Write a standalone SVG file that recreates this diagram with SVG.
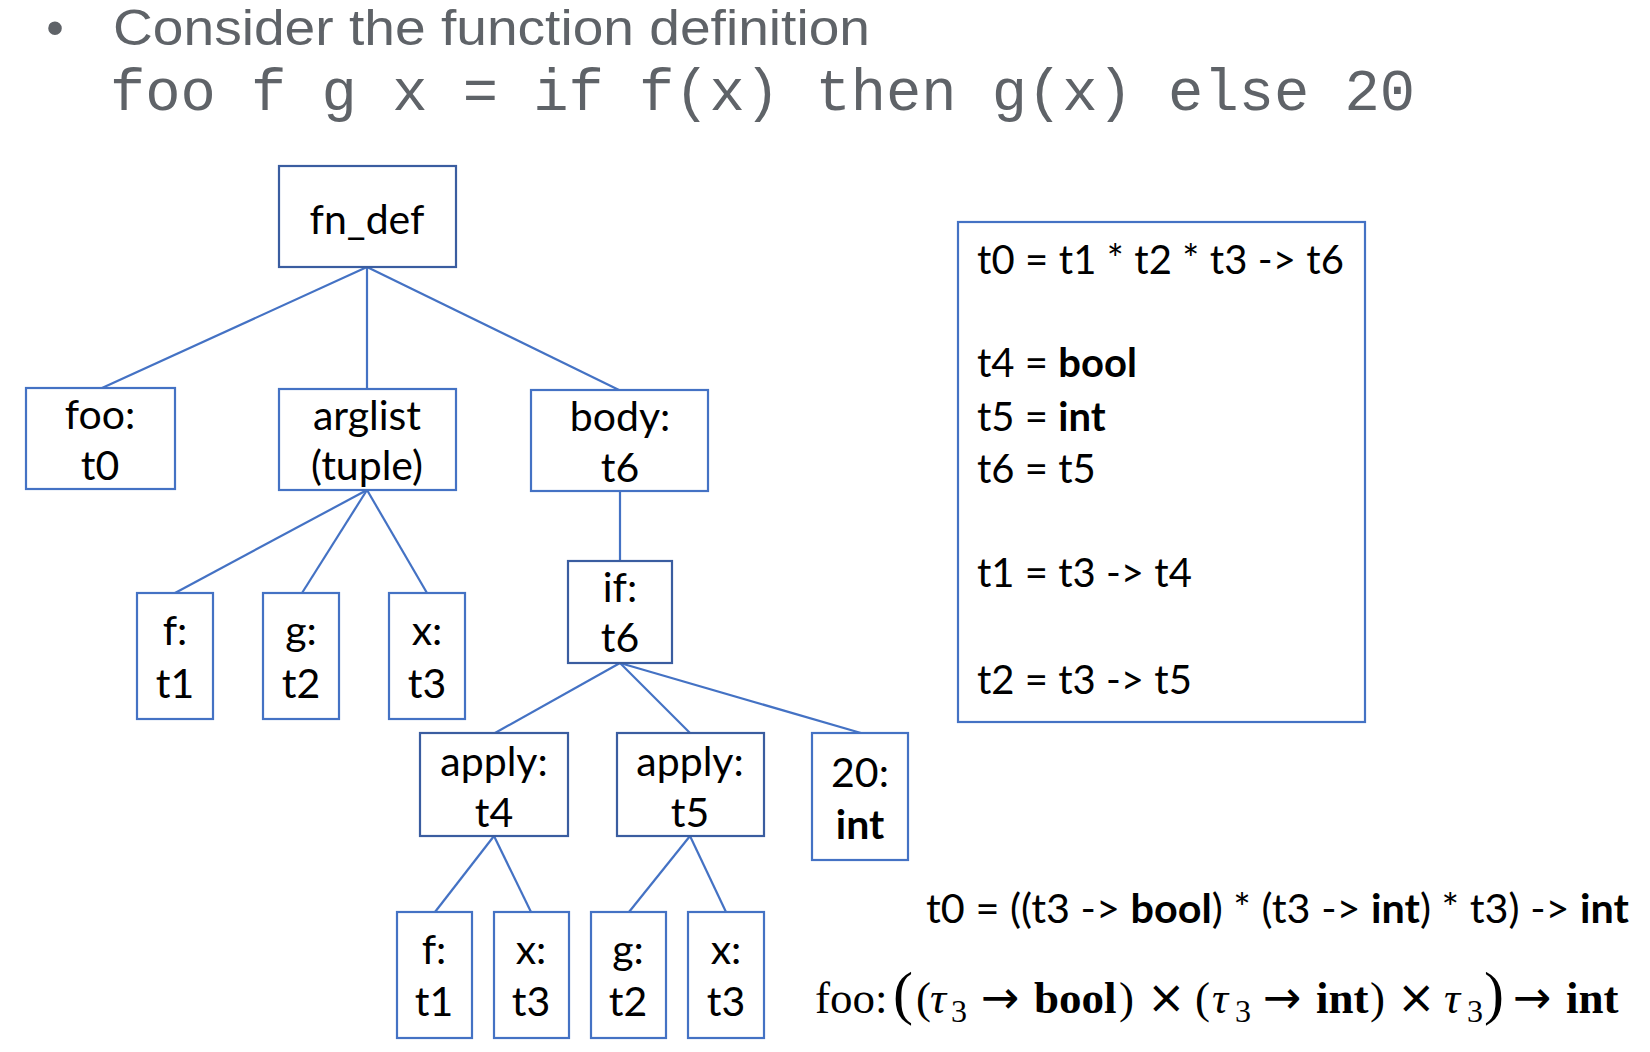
<svg xmlns="http://www.w3.org/2000/svg" width="1650" height="1052" viewBox="0 0 1650 1052">
<style>
.box{fill:#fff;stroke:#4472C4;stroke-width:2.2}
.dk{stroke:#3A5DA0}
.lbl{font-family:Lato,"Liberation Sans",sans-serif;font-size:41px;fill:#000;text-anchor:middle}
.eq{font-family:Lato,"Liberation Sans",sans-serif;font-size:40px;fill:#000}
.b{font-weight:bold}
.conn line{stroke:#4472C4;stroke-width:2.2}
.title{font-family:"Liberation Sans",Arial,sans-serif;font-size:50px;fill:#5F6368}
.code{font-family:"Liberation Mono",monospace;font-size:59px;fill:#5F6368}
.math{font-family:"Liberation Serif",serif;font-size:45px;fill:#000}
.it{font-style:italic}
.sub{font-size:32px}
.big{font-size:60px}
.arr{font-family:"DejaVu Sans",sans-serif;font-size:46px}
.x{font-family:"DejaVu Sans",sans-serif;font-size:46px}
</style>
<rect width="1650" height="1052" fill="#fff"/>
<g id="title">
<text class="title" x="55" y="45" text-anchor="middle">•</text>
<text class="title" x="113" y="45" textLength="757" lengthAdjust="spacingAndGlyphs">Consider the function definition</text>
<text class="code" x="110" y="110" textLength="1305" lengthAdjust="spacingAndGlyphs">foo f g x = if f(x) then g(x) else 20</text>
</g>
<g class="conn" id="connectors">
<line x1="367" y1="267" x2="102" y2="388"/>
<line x1="367" y1="267" x2="367" y2="389"/>
<line x1="367" y1="267" x2="619" y2="390"/>
<line x1="367" y1="490" x2="175" y2="593"/>
<line x1="367" y1="490" x2="302" y2="593"/>
<line x1="367" y1="490" x2="427" y2="593"/>
<line x1="620" y1="491" x2="620" y2="561"/>
<line x1="620" y1="663" x2="495" y2="733"/>
<line x1="620" y1="663" x2="690" y2="733"/>
<line x1="620" y1="663" x2="861" y2="733"/>
<line x1="494" y1="836" x2="435" y2="912"/>
<line x1="494" y1="836" x2="531" y2="912"/>
<line x1="690" y1="836" x2="629" y2="912"/>
<line x1="690" y1="836" x2="726" y2="912"/>
</g>
<g id="fn_def"><rect class="box dk" x="279" y="166" width="177" height="101"/><text class="lbl" x="367" y="234">fn_def</text></g>
<g id="foo"><rect class="box" x="26" y="388" width="149" height="101"/><text class="lbl" x="100" y="429">foo:</text><text class="lbl" x="100" y="480">t0</text></g>
<g id="arglist"><rect class="box" x="279" y="389" width="177" height="101"/><text class="lbl" x="367" y="430">arglist</text><text class="lbl" x="367" y="480">(tuple)</text></g>
<g id="body"><rect class="box" x="531" y="390" width="177" height="101"/><text class="lbl" x="620" y="431">body:</text><text class="lbl" x="620" y="482">t6</text></g>
<g id="arg_f"><rect class="box" x="137" y="593" width="76" height="126"/><text class="lbl" x="175" y="645">f:</text><text class="lbl" x="175" y="698">t1</text></g>
<g id="arg_g"><rect class="box" x="263" y="593" width="76" height="126"/><text class="lbl" x="301" y="645">g:</text><text class="lbl" x="301" y="698">t2</text></g>
<g id="arg_x"><rect class="box" x="389" y="593" width="76" height="126"/><text class="lbl" x="427" y="645">x:</text><text class="lbl" x="427" y="698">t3</text></g>
<g id="if"><rect class="box dk" x="568" y="561" width="104" height="102"/><text class="lbl" x="620" y="602">if:</text><text class="lbl" x="620" y="652">t6</text></g>
<g id="apply_t4"><rect class="box dk" x="420" y="733" width="148" height="103"/><text class="lbl" x="494" y="776">apply:</text><text class="lbl" x="494" y="827">t4</text></g>
<g id="apply_t5"><rect class="box dk" x="617" y="733" width="147" height="103"/><text class="lbl" x="690" y="776">apply:</text><text class="lbl" x="690" y="827">t5</text></g>
<g id="lit20"><rect class="box" x="812" y="733" width="96" height="127"/><text class="lbl" x="860" y="787">20:</text><text class="lbl b" x="860" y="839">int</text></g>
<g id="leaf_f"><rect class="box" x="397" y="912" width="75" height="126"/><text class="lbl" x="434" y="964">f:</text><text class="lbl" x="434" y="1016">t1</text></g>
<g id="leaf_x1"><rect class="box" x="494" y="912" width="75" height="126"/><text class="lbl" x="531" y="964">x:</text><text class="lbl" x="531" y="1016">t3</text></g>
<g id="leaf_g"><rect class="box" x="591" y="912" width="75" height="126"/><text class="lbl" x="628" y="964">g:</text><text class="lbl" x="628" y="1016">t2</text></g>
<g id="leaf_x2"><rect class="box" x="688" y="912" width="76" height="126"/><text class="lbl" x="726" y="964">x:</text><text class="lbl" x="726" y="1016">t3</text></g>
<g id="constraints">
<rect class="box" x="958" y="222" width="407" height="500"/>
<text class="eq" x="977" y="274" textLength="367" lengthAdjust="spacing">t0 = t1 * t2 * t3 -&gt; t6</text>
<text class="eq" x="977" y="377">t4 = <tspan class="b">bool</tspan></text>
<text class="eq" x="977" y="431">t5 = <tspan class="b">int</tspan></text>
<text class="eq" x="977" y="483">t6 = t5</text>
<text class="eq" x="977" y="587">t1 = t3 -&gt; t4</text>
<text class="eq" x="977" y="694">t2 = t3 -&gt; t5</text>
</g>
<g id="result">
<text class="eq" x="926" y="923" textLength="703" lengthAdjust="spacingAndGlyphs">t0 = ((t3 -&gt; <tspan class="b">bool</tspan>) * (t3 -&gt; <tspan class="b">int</tspan>) * t3) -&gt; <tspan class="b">int</tspan></text>
<text class="math" y="1013"><tspan x="815">foo:</tspan><tspan class="big" x="893">(</tspan><tspan x="916">(</tspan><tspan class="it" x="930">τ</tspan><tspan class="sub" x="951" y="1022">3</tspan><tspan class="arr" x="981" y="1013">→</tspan><tspan class="b" x="1034">bool</tspan><tspan x="1119">)</tspan><tspan class="x" x="1147">×</tspan><tspan x="1195">(</tspan><tspan class="it" x="1212">τ</tspan><tspan class="sub" x="1235" y="1022">3</tspan><tspan class="arr" x="1263" y="1013">→</tspan><tspan class="b" x="1316">int</tspan><tspan x="1370">)</tspan><tspan class="x" x="1397">×</tspan><tspan class="it" x="1444">τ</tspan><tspan class="sub" x="1467" y="1022">3</tspan><tspan class="big" x="1484" y="1013">)</tspan><tspan class="arr" x="1513">→</tspan><tspan class="b" x="1566">int</tspan></text>
</g>
</svg>
